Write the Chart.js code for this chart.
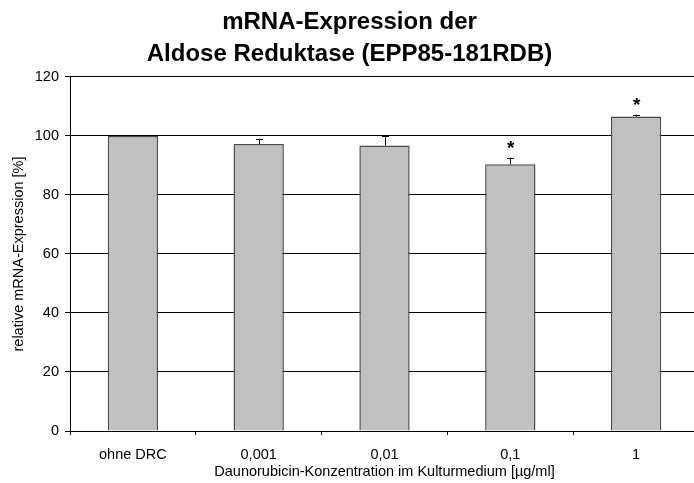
<!DOCTYPE html>
<html>
<head>
<meta charset="utf-8">
<script src="https://cdn.jsdelivr.net/npm/chart.js@4/dist/chart.umd.min.js"></script>
<style>
  html, body { margin: 0; padding: 0; background: #fff; overflow: hidden; }
  #wrap { width: 694px; height: 483px; overflow: hidden; position: relative; }
  #box { width: 704px; height: 483px; position: absolute; left: 0; top: 0; }
</style>
</head>
<body>
<div id="wrap"><div id="box"><canvas id="chart"></canvas></div></div>
<script>
// Daunorubicin concentrations (µg/ml) on the x axis
const categories = ['ohne DRC', '0,001', '0,01', '0,1', '1'];
// Relative aldose reductase mRNA expression, % of untreated control
const expression = [100, 97.3, 96.8, 90.4, 106.6];
// Upper error (standard deviation)
const errors = [0, 1.8, 3.3, 2.3, 0.6];
// Significance markers above the bars
const significance = ['', '', '', '*', '*'];
const yTicks = [0, 20, 40, 60, 80, 100, 120];

const FONT = "'Liberation Sans', Arial, Helvetica, sans-serif";

// Draws the upper error whiskers and significance stars
const errorBarPlugin = {
  id: 'errorBars',
  afterDatasetsDraw(chart) {
    const ctx = chart.ctx;
    const meta = chart.getDatasetMeta(0);
    const y = chart.scales.y;
    ctx.save();
    meta.data.forEach((bar, i) => {
      const top = y.getPixelForValue(expression[i]);
      const hi = y.getPixelForValue(expression[i] + errors[i]);
      if (errors[i] > 0) {
        ctx.strokeStyle = '#000';
        ctx.lineWidth = 1;
        ctx.beginPath();
        ctx.moveTo(Math.round(bar.x) + 0.5, top);
        ctx.lineTo(Math.round(bar.x) + 0.5, hi);
        ctx.moveTo(Math.round(bar.x) - 3, Math.round(hi) + 0.5);
        ctx.lineTo(Math.round(bar.x) + 4, Math.round(hi) + 0.5);
        ctx.stroke();
      }
      if (significance[i]) {
        ctx.fillStyle = '#000';
        ctx.font = 'bold 19px ' + FONT;
        ctx.textAlign = 'center';
        ctx.textBaseline = 'alphabetic';
        ctx.fillText(significance[i], bar.x + 0.5, hi - 4);
      }
    });
    ctx.restore();
  }
};

new Chart(document.getElementById('chart'), {
  type: 'bar',
  data: {
    labels: categories,
    datasets: [{
      data: expression,
      backgroundColor: '#c0c0c0',
      borderColor: '#4a4a4a',
      borderWidth: 1.5,
      borderSkipped: 'bottom',
      barPercentage: 0.4,
      categoryPercentage: 1.0
    }]
  },
  options: {
    responsive: true,
    maintainAspectRatio: false,
    animation: false,
    layout: { padding: { top: 6, right: 5, left: 0, bottom: 0 } },
    plugins: {
      legend: { display: false },
      tooltip: { enabled: false },
      title: {
        display: true,
        text: ['mRNA-Expression der', 'Aldose Reduktase (EPP85-181RDB)'],
        color: '#000',
        font: { family: FONT, size: 24, weight: 'bold', lineHeight: 1.3333 },
        padding: { top: 0, bottom: 7 }
      }
    },
    scales: {
      x: {
        grid: {
          display: true,
          drawOnChartArea: false,
          drawTicks: true,
          tickLength: 4,
          color: '#000',
          offset: true
        },
        border: { display: true, color: '#000', width: 1 },
        ticks: {
          color: '#000',
          font: { family: FONT, size: 14.5 },
          padding: 11
        },
        title: {
          display: true,
          text: 'Daunorubicin-Konzentration im Kulturmedium [µg/ml]',
          color: '#000',
          font: { family: FONT, size: 14.5 },
          padding: { top: 0, bottom: 2 }
        },
        afterFit(scale) { scale.height = 52; }
      },
      y: {
        min: 0,
        max: 120,
        afterBuildTicks(scale) { scale.ticks = yTicks.map(v => ({ value: v })); },
        grid: {
          color: '#000',
          lineWidth: 1,
          tickLength: 5,
          drawTicks: true
        },
        border: { display: true, color: '#000', width: 1 },
        ticks: {
          color: '#000',
          font: { family: FONT, size: 14.5 },
          padding: 6
        },
        title: {
          display: true,
          text: 'relative mRNA-Expression [%]',
          color: '#000',
          font: { family: FONT, size: 14.5 },
          padding: { top: 10, bottom: 0 }
        },
        afterFit(scale) { scale.width = 70; }
      }
    }
  },
  plugins: [errorBarPlugin]
});
</script>
</body>
</html>
